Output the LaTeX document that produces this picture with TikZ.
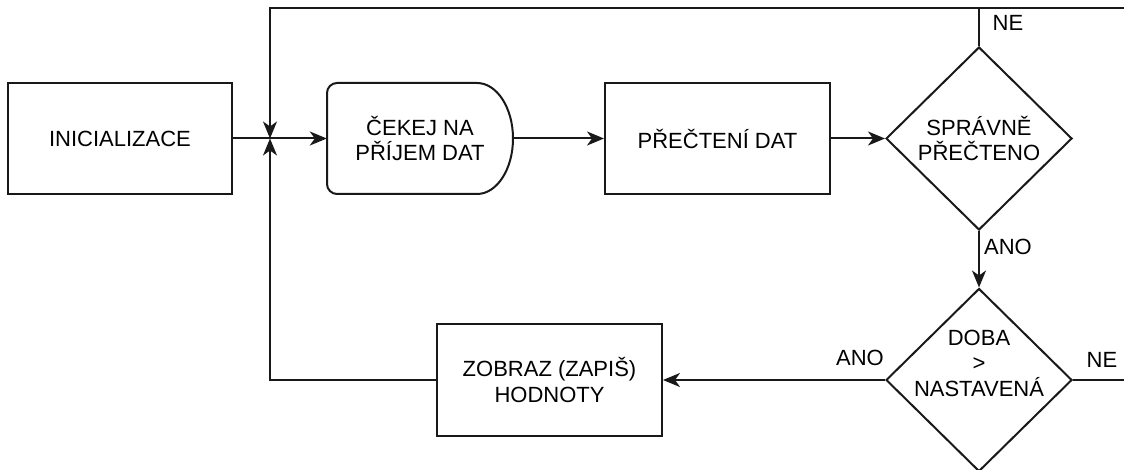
\documentclass[tikz,border=0pt]{standalone}
\usepackage{fontspec}
\setmainfont{Liberation Sans}
\usetikzlibrary{shapes.geometric,arrows.meta}
\begin{document}
\begin{tikzpicture}[x=1pt,y=-1pt,
  txt/.style={font=\fontsize{22}{25.5}\selectfont, align=center, text=black},
  line/.style={line width=2pt, draw=black!90},
  arr/.style={line, -{Stealth[length=17pt,width=14pt,inset=5pt]}},
  box/.style={txt, draw=black!90, line width=2pt, rectangle, minimum width=225pt, minimum height=111pt, inner sep=0pt},
  dia/.style={txt, draw=black!90, line width=2pt, diamond, minimum width=186pt, minimum height=183pt, inner sep=0pt},
  lbl/.style={txt, inner sep=0pt}
]
\useasboundingbox (0,0) rectangle (1124,470);
\clip (0,0) rectangle (1124,470);

% nodes
\node[box, minimum width=224pt] (init) at (120,138.5) {INICIALIZACE};
\node[txt, minimum width=186pt, minimum height=111pt, inner sep=0pt] (wait) at (420,138.5) {ČEKEJ NA\\PŘÍJEM DAT};
\node[box] (read) at (717.5,138.5) {PŘEČTENÍ DAT};
\node[dia] (d1) at (979,138.5) {SPRÁVNĚ\\PŘEČTENO};
\node[dia] (d2) at (979,380) {};
\node[lbl] (d2t) at (979,363) {DOBA\\>\\NASTAVENÁ};
\node[box, minimum height=112pt] (show) at (549.5,380) {ZOBRAZ (ZAPIŠ)\\HODNOTY};

% delay shape outline
\draw[line] (477,83) .. controls (496.9,83) and (513,107.85) .. (513,138.5)
  .. controls (513,169.15) and (496.9,194) .. (477,194)
  -- (337,194) .. controls (331.5,194) and (327,189.5) .. (327,184)
  -- (327,93) .. controls (327,87.5) and (331.5,83) .. (337,83) -- cycle;

% coordinates
\coordinate (j) at (270,138.5);
\coordinate (top) at (270,8);
\coordinate (rb) at (1140,380);
\coordinate (rt) at (1140,8);

% connectors
\draw[arr] (init.east) -- (wait.west);
\draw[arr] (wait.east) -- (read.west);
\draw[arr] (read.east) -- (d1.west);
\draw[arr] (d1.south) -- (d2.north);
\draw[arr] (d2.west) -- (show.east);
\draw[arr] (show.west) -| (j);
\draw[arr] (d1.north) |- (top) -- (j);
\draw[line] (d2.east) -- (rb) -- (rt) -- (d1.north |- rt);

% labels
\node[lbl] (ne1) at (1008,23) {NE};
\node[lbl] (ano1) at (1008,247) {ANO};
\node[lbl] (ano2) at (860,358) {ANO};
\node[lbl] (ne2) at (1102,360) {NE};
\end{tikzpicture}
\end{document}
